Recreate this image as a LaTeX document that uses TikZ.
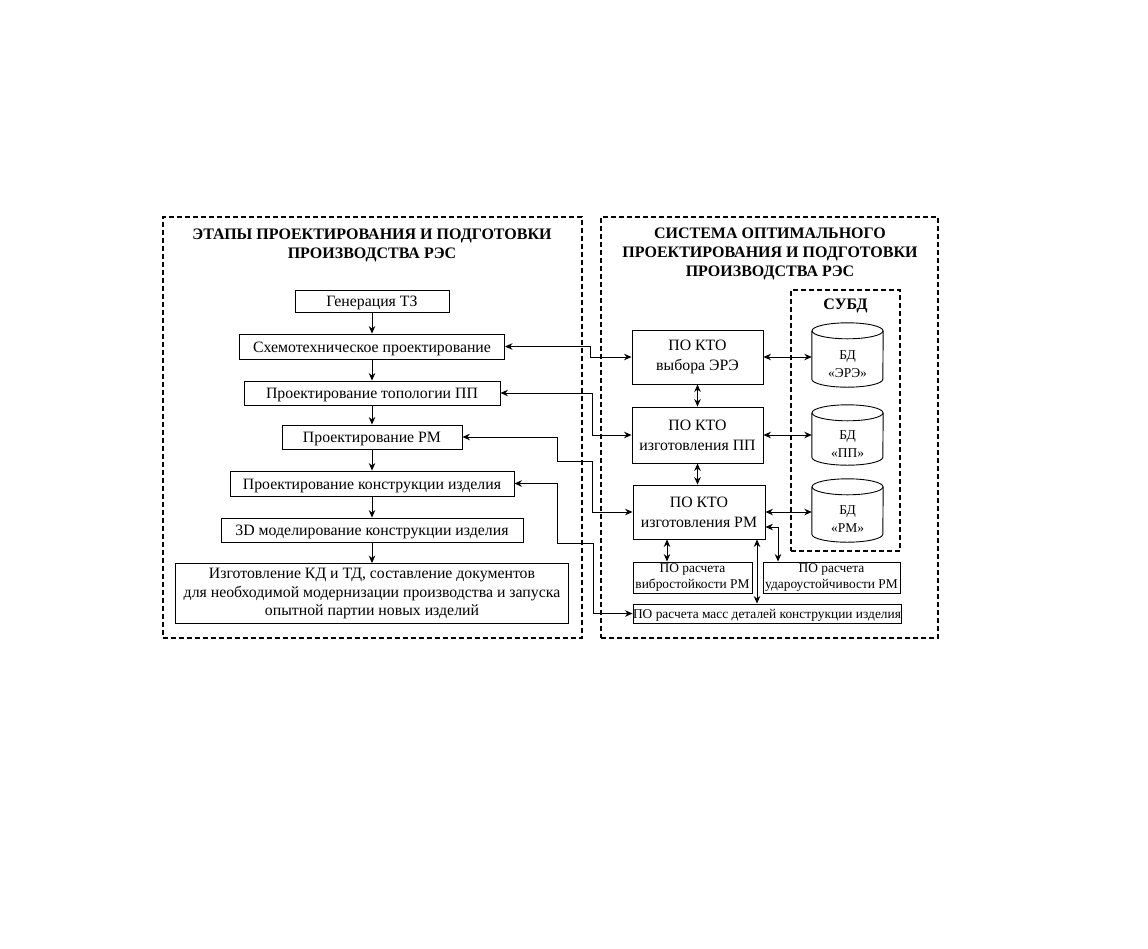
\documentclass[tikz,border=0pt]{standalone}
\usepackage{fontspec}
\setmainfont{Liberation Serif}
\usetikzlibrary{arrows.meta}
\begin{document}
\begin{tikzpicture}[x=1pt,y=-1pt,
  box/.style={draw, line width=0.9pt, inner sep=0pt, align=center, font=\fontsize{15.8}{18.8}\selectfont},
  one/.style={text height=12.5pt, text depth=1.5pt},
  kto/.style={box, font=\fontsize{15.8}{20}\selectfont},
  small/.style={box, font=\fontsize{13.4}{15.5}\selectfont},
  frame/.style={draw, line width=1.8pt, dash pattern=on 5pt off 3pt, inner sep=0pt},
  ttl/.style={font=\bfseries\fontsize{16}{19}\selectfont, align=center, inner sep=0pt},
  cyltext/.style={inner sep=0pt, align=center, font=\fontsize{13.5}{18}\selectfont},
  cyl/.style={line width=0.9pt},
  arr/.style={line width=0.9pt, -{Stealth[length=7.5pt,width=6.5pt]}},
  darr/.style={line width=0.9pt, {Stealth[length=7.5pt,width=6.5pt]}-{Stealth[length=7.5pt,width=6.5pt]}}]
\useasboundingbox (0,0) rectangle (1148,948);
% frames
\node[frame, minimum width=419pt, minimum height=421pt] (lframe) at (372.5,427.5) {};
\node[frame, minimum width=337pt, minimum height=421pt] (rframe) at (769.5,427.5) {};
\node[frame, minimum width=109pt, minimum height=261pt] (subd) at (845.5,420.5) {};
% titles
\node[ttl] (ltitle) at (372,245) {ЭТАПЫ ПРОЕКТИРОВАНИЯ И ПОДГОТОВКИ\\ПРОИЗВОДСТВА РЭС};
\node[ttl] (rtitle) at (770,253.5) {СИСТЕМА ОПТИМАЛЬНОГО\\ПРОЕКТИРОВАНИЯ И ПОДГОТОВКИ\\ПРОИЗВОДСТВА РЭС};
\node[ttl] (stitle) at (845.5,306) {СУБД};
% left column
\node[box, one, minimum width=154pt, minimum height=22pt] (gen) at (372,301) {Генерация ТЗ};
\node[box, one, minimum width=265pt, minimum height=25pt] (sch) at (372,346.5) {Схемотехническое проектирование};
\node[box, one, minimum width=256pt, minimum height=24pt] (top) at (372,393) {Проектирование топологии ПП};
\node[box, one, minimum width=180pt, minimum height=24pt] (rm) at (372,437) {Проектирование РМ};
\node[box, one, minimum width=284pt, minimum height=25pt] (kon) at (372,483.5) {Проектирование конструкции изделия};
\node[box, one, minimum width=302pt, minimum height=24pt] (m3d) at (372,530) {3D моделирование конструкции изделия};
\node[box, minimum width=393pt, minimum height=60pt] (kd) at (372,593.5) {Изготовление КД и ТД, составление документов\\для необходимой модернизации производства и запуска\\опытной партии новых изделий};
\draw[arr] (gen) -- (sch);
\draw[arr] (sch) -- (top);
\draw[arr] (top) -- (rm);
\draw[arr] (rm) -- (kon);
\draw[arr] (kon) -- (m3d);
\draw[arr] (m3d) -- (kd);
% right column
\node[kto, minimum width=131pt, minimum height=54pt] (ere) at (697.5,357) {ПО КТО\\выбора ЭРЭ};
\node[kto, minimum width=131pt, minimum height=56pt] (pp) at (697.5,435) {ПО КТО\\изготовления ПП};
\node[kto, minimum width=132pt, minimum height=54pt] (prm) at (699,512) {ПО КТО\\изготовления РМ};
\node[small, minimum width=119pt, minimum height=31pt] (vib) at (692.5,577.5) {ПО расчета\\вибростойкости РМ};
\node[small, minimum width=137pt, minimum height=31pt] (udar) at (831.5,577.5) {ПО расчета\\удароустойчивости РМ};
\node[small, text height=10.5pt, text depth=1pt, minimum width=268pt, minimum height=19pt] (mass) at (767,613.5) {ПО расчета масс деталей конструкции изделия};
% cylinders
\foreach \n/\cy/\h/\t in {cyla/355/64/{«ЭРЭ»}, cylb/435/60/{«ПП»}, cylc/510.5/63/{«РМ»}}{
  \node[cyltext, minimum width=71pt, minimum height=\h pt] (\n) at (847.5,\cy) {};
  \node[cyltext] at ([yshift=-9pt]\n.center) {БД\\\t};
  \draw[cyl] ([yshift=-8pt]\n.north) ellipse [x radius=35.5pt, y radius=8pt];
  \draw[cyl] ([yshift=-8pt]\n.north west) -- ([yshift=8pt]\n.south west)
     arc[start angle=180, end angle=360, x radius=35.5pt, y radius=8pt]
     -- ([yshift=-8pt]\n.north east);
}
% connectors left-right
\draw[darr] (sch.east) -| (590,357) -- (ere.west);
\draw[darr] (top.east) -| (592,435) -- (pp.west);
\draw[darr] (rm.east) -| (557,461) -| (592,512) -- (prm.west);
\draw[darr] (kon.east) -| (557,543) -| (593,613.5) -- (mass.west);
% right internal
\draw[darr] (ere.south) -- (pp.north);
\draw[darr] (pp.south) -- (pp.south |- prm.north);
\draw[darr] (ere.east) -- (ere.east -| cyla.west);
\draw[darr] (pp.east) -- (pp.east -| cylb.west);
\draw[darr] (prm.east) -- (prm.east -| cylc.west);
\draw[darr] ([xshift=-32pt]prm.south) -- ([xshift=-32pt]prm.south |- vib.north);
\draw[darr] ([xshift=58pt]prm.south) -- ([xshift=58pt]prm.south |- mass.north);
\draw[darr] ([yshift=-15pt]prm.east) -| ([xshift=-53.5pt]udar.north);
\end{tikzpicture}
\end{document}
